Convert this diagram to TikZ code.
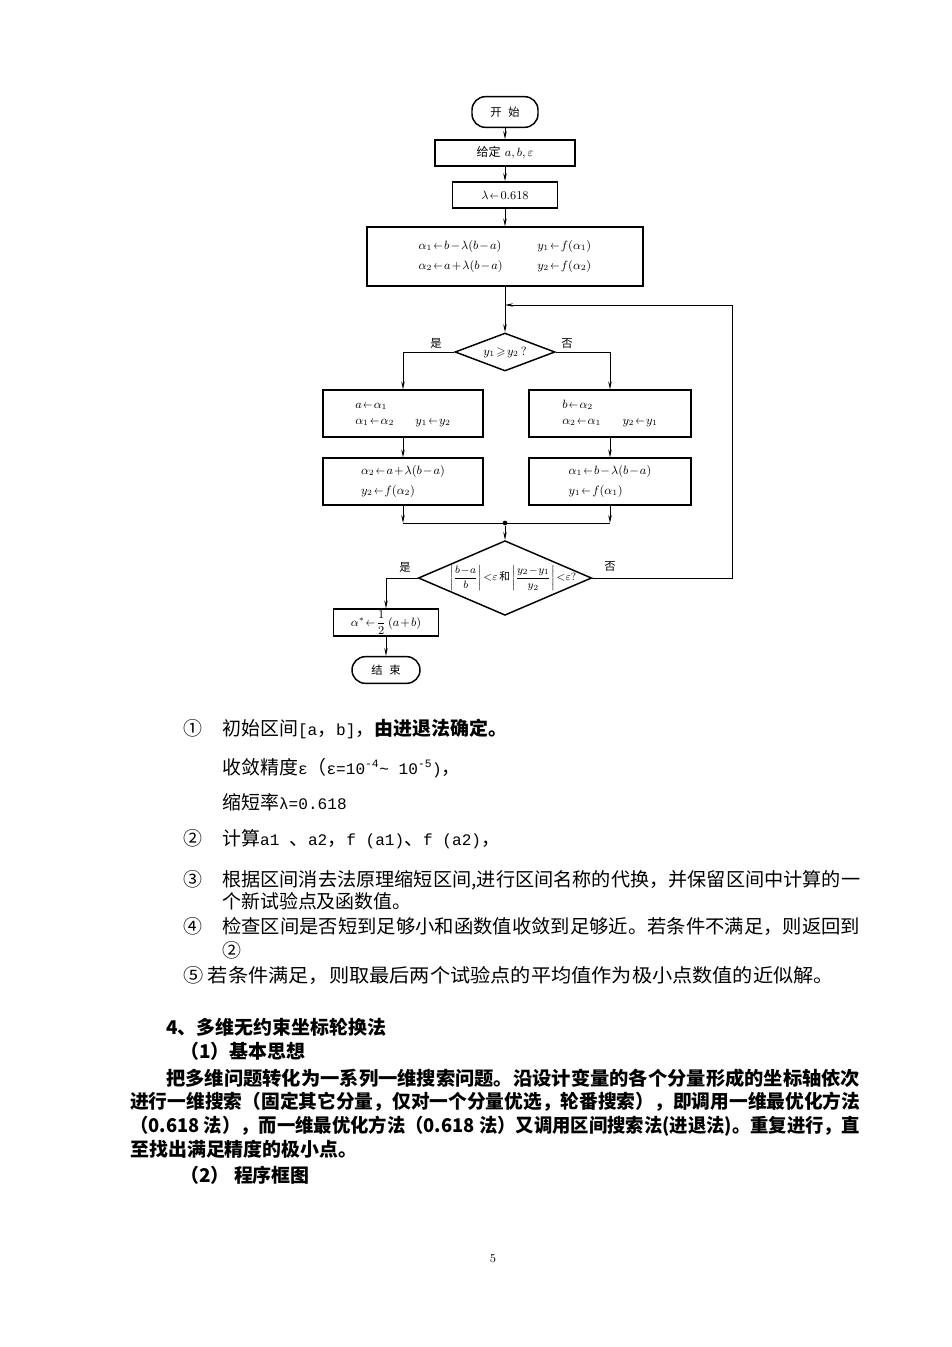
\documentclass[tikz,border=0pt]{standalone}
\usepackage{amsmath,amssymb}
\usepackage{fontspec}
\newfontfamily\cjk{Noto Sans CJK SC}
\newfontfamily\latmono[Scale=0.85]{Liberation Mono}
\usetikzlibrary{positioning, arrows.meta, shapes.geometric}
\newcommand{\asg}{\mathrel{\scalebox{0.75}[1]{$\leftarrow$}}}

\begin{document}
\begin{tikzpicture}[
    x=0.75pt, y=-0.75pt,
    mfont/.style={font={\fontsize{9}{11}\selectfont\thickmuskip=2mu\medmuskip=1.5mu}},
    box/.style={draw, line width=1.1pt, inner sep=0pt, mfont, align=center},
    term/.style={box, rounded corners=10pt, font=\cjk\fontsize{8.5}{10}\selectfont},
    dia/.style={draw, diamond, line width=1.1pt, inner sep=0pt, mfont},
    arr/.style={-{Stealth[length=6pt, width=2.6pt]}, line width=0.7pt},
    ln/.style={line width=0.7pt},
    dot/.style={circle, fill, inner sep=0pt, minimum size=3.5pt},
    yn/.style={font=\cjk\fontsize{8.5}{10}\selectfont},
    txt/.style={anchor=west, inner sep=0pt, font=\cjk\fontsize{14.2}{17}\selectfont,
                text height=12.5pt, text depth=1.7pt},
    btxt/.style={txt, font=\cjk\bfseries\fontsize{14.2}{17}\selectfont}
]
\path[fill=white] (0,0) rectangle (952,1347);

\node[term, minimum width=49.5pt, minimum height=23pt] (start) at (505,112) {开\hspace{0.6em}始};
\node[box, minimum width=105pt, minimum height=19.5pt] (given) at (505,153) {{\cjk 给定} $a,b,\varepsilon$};
\node[box, minimum width=79pt, minimum height=19.5pt] (lam) at (505,195) {$\lambda\asg 0.618$};
\node[box, minimum width=207pt, minimum height=44pt] (init) at (505,256.5) {%
  \begin{tabular}{l@{\hspace{26pt}}l}
  $\alpha_1\asg b-\lambda(b-a)$ & $y_1\asg f(\alpha_1)$\\[4pt]
  $\alpha_2\asg a+\lambda(b-a)$ & $y_2\asg f(\alpha_2)$
  \end{tabular}};
\node[dia, aspect=2.6, minimum width=75pt, minimum height=28.5pt] (d1) at (505,352) {$y_1\geqslant y_2\,?$};

\node[box, minimum width=120pt, minimum height=35pt] (lb1) at (403,413.5) {%
  \begin{tabular}{l@{\hspace{16pt}}l}
  $a\asg\alpha_1$ & \\[1pt]
  $\alpha_1\asg\alpha_2$ & $y_1\asg y_2$
  \end{tabular}};
\node[box, minimum width=121.5pt, minimum height=35pt] (rb1) at (610,413.5) {%
  \begin{tabular}{l@{\hspace{16pt}}l}
  $b\asg\alpha_2$ & \\[1pt]
  $\alpha_2\asg\alpha_1$ & $y_2\asg y_1$
  \end{tabular}};
\node[box, minimum width=120pt, minimum height=35pt] (lb2) at (403,481.5) {%
  \begin{tabular}{l}
  $\alpha_2\asg a+\lambda(b-a)$\\[4pt]
  $y_2\asg f(\alpha_2)$
  \end{tabular}};
\node[box, minimum width=121.5pt, minimum height=35pt] (rb2) at (610,481.5) {%
  \begin{tabular}{l}
  $\alpha_1\asg b-\lambda(b-a)$\\[4pt]
  $y_1\asg f(\alpha_1)$
  \end{tabular}};

\node[dot] (join) at (505,523) {};
\node[dia, minimum width=130pt, minimum height=56pt] (d2) at (505,578) {};
\node[inner sep=0pt, font={\fontsize{8}{10}\selectfont\thickmuskip=1.5mu\medmuskip=1mu}] (d2txt) at ([xshift=6pt]d2.center)
  {$\left|\dfrac{b-a}{b}\right|{<}\varepsilon$\,{\cjk 和}\,$\left|\dfrac{y_2-y_1}{y_2}\right|{<}\varepsilon?$};
\node[box, minimum width=79pt, minimum height=20pt] (ast) at (386,622.5) {$\alpha^*\asg\dfrac{1}{2}\,(a+b)$};
\node[term, minimum width=51pt, minimum height=20pt] (end) at (386,670) {结\hspace{0.6em}束};

\node[yn] (yes1) at (436,343) {是};
\node[yn] (no1) at (567,344) {否};
\node[yn] (yes2) at (405,567) {是};
\node[yn] (no2) at (610,567) {否};

\coordinate (loopin) at (505,305);
\coordinate (loopr) at (732,305);

\draw[arr] (start) -- (given);
\draw[arr] (given) -- (lam);
\draw[arr] (lam) -- (init);
\draw[arr] (init) -- (d1);
\draw[arr] (d1.west) -| (lb1.north);
\draw[arr] (d1.east) -| (rb1.north);
\draw[arr] (lb1) -- (lb2);
\draw[arr] (rb1) -- (rb2);
\draw[arr] (lb2.south) -- (lb2.south |- join);
\draw[arr] (rb2.south) -- (rb2.south |- join);
\draw[ln] (lb2.south |- join) -- (rb2.south |- join);
\draw[arr] (join) -- (d2.north);
\draw[ln] (d2.east) -| (loopr);
\draw[arr] (loopr) -- (loopin);
\draw[arr] (d2.west) -| (ast.north);
\draw[arr] (ast) -- (end);

\node[txt] (c1) at (183,728) {①};
\node[txt] (t1) at (222,728) {初始区间{\latmono[a}，{\latmono b]}，{\bfseries 由进退法确定。}};
\node[txt] (t1b) at (222,767) {收敛精度{\latmono ε}（{\latmono ε=10\textsuperscript{-4}\textasciitilde{} 10\textsuperscript{-5})}，};
\node[txt] (t1c) at (222,802) {缩短率{\latmono λ=0.618}};
\node[txt] (c2) at (183,838) {②};
\node[txt] (t2) at (222,838) {计算{\latmono a1 }、{\latmono  a2}，{\latmono  f (a1)}、{\latmono  f (a2)}，};
\node[txt] (c3) at (183,879) {③};
\node[txt] (t3) at (222,879) {\resizebox{478.5pt}{\height}{根据区间消去法原理缩短区间,进行区间名称的代换，并保留区间中计算的一}};
\node[txt] (t3b) at (222,901) {个新试验点及函数值。};
\node[txt] (c4) at (183,926) {④};
\node[txt] (t4) at (222,926) {\resizebox{478.5pt}{\height}{检查区间是否短到足够小和函数值收敛到足够近。若条件不满足，则返回到}};
\node[txt] (t4b) at (222,950) {②};
\node[txt] (t5) at (183,975) {\resizebox{488pt}{\height}{⑤ 若条件满足，则取最后两个试验点的平均值作为极小点数值的近似解。}};

\node[btxt] (sec) at (166,1027) {4、多维无约束坐标轮换法};
\node[btxt] (sub1) at (180,1051) {（1）基本思想};
\node[btxt] (p1) at (166,1078) {\resizebox{520.5pt}{\height}{把多维问题转化为一系列一维搜索问题。沿设计变量的各个分量形成的坐标轴依次}};
\node[btxt] (p2) at (130,1101) {\resizebox{547.5pt}{\height}{进行一维搜索（固定其它分量，仅对一个分量优选，轮番搜索），即调用一维最优化方法}};
\node[btxt] (p3) at (130,1125) {\resizebox{547.5pt}{\height}{（0.618 法），而一维最优化方法（0.618 法）又调用区间搜索法(进退法)。重复进行，直}};
\node[btxt] (p4) at (130,1149) {至找出满足精度的极小点。};
\node[btxt] (sub2) at (180,1175) {（2） 程序框图};

\node[font=\fontsize{9}{10}\selectfont] (page) at (493,1259) {5};
\end{tikzpicture}
\end{document}
